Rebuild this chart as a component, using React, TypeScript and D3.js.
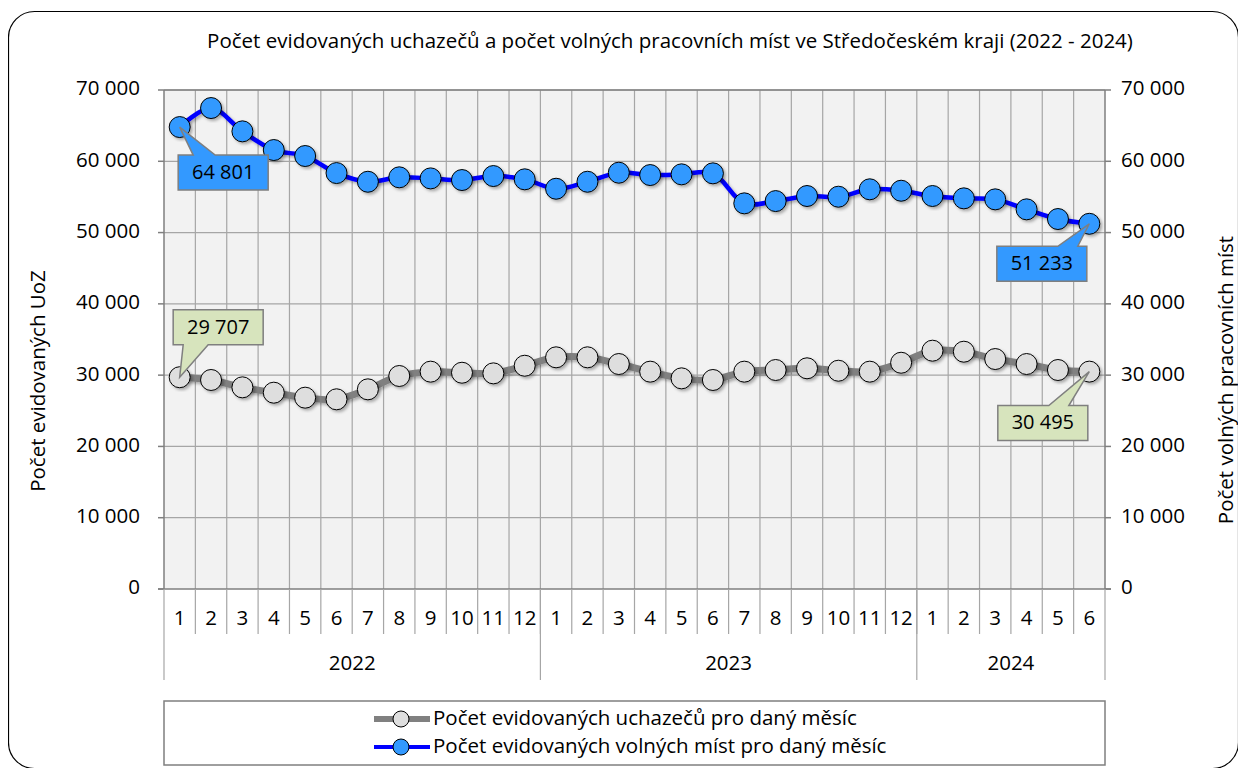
import React from "react";
import * as d3 from "d3";

// data
const months = [1, 2, 3, 4, 5, 6, 7, 8, 9, 10, 11, 12, 1, 2, 3, 4, 5, 6, 7, 8, 9, 10, 11, 12, 1, 2, 3, 4, 5, 6];
const years = ["2022", "2023", "2024"];
const yearSizes = [12, 12, 6];
const uchazeci = [
  29707, 29320, 28290, 27540, 26840, 26610, 28010, 29880, 30490, 30340, 30250, 31320,
  32500, 32500, 31560, 30490, 29550, 29320, 30490, 30720, 30960, 30620, 30490, 31740,
  33430, 33290, 32260, 31560, 30720, 30495,
];
const volnaMista = [
  64801, 67470, 64200, 61580, 60740, 58350, 57130, 57750, 57600, 57370, 57930, 57470,
  56150, 57130, 58400, 58070, 58170, 58310, 54100, 54420, 55130, 55030, 56070, 55870,
  55130, 54800, 54660, 53260, 51900, 51233,
];
const yTicks = [0, 10000, 20000, 30000, 40000, 50000, 60000, 70000];
const title = "Počet evidovaných uchazečů a počet volných pracovních míst ve Středočeském kraji (2022 - 2024)";
const leftTitle = "Počet evidovaných UoZ";
const rightTitle = "Počet volných pracovních míst";
const legendLabels = ["Počet evidovaných uchazečů pro daný měsíc", "Počet evidovaných volných míst pro daný měsíc"];

const FONT = "'Open Sans', 'Noto Sans', sans-serif";
const FS = 20.5;

const App = () => {
  const width = 1246;
  const height = 776;
  const margin = { left: 164, right: 141, top: 90, bottom: 187 };
  const plotR = width - margin.right;
  const plotB = height - margin.bottom;

  const idx = d3.range(months.length);
  const x = d3.scaleBand<number>().domain(idx).range([margin.left, plotR]);
  const y = d3.scaleLinear().domain([0, 70000]).range([plotB, margin.top]);
  const cx = (i: number) => (x(i) as number) + x.bandwidth() / 2;

  const loc = d3.formatLocale({ decimal: ",", thousands: " ", grouping: [3], currency: ["", ""] });
  const fmt = loc.format(",d");

  const line = d3
    .line<number>()
    .x((_, i) => cx(i))
    .y((d) => y(d))
    .curve(d3.curveCatmullRom.alpha(0.5));

  // year boundaries
  let acc = 0;
  const yearGroups = years.map((yr, k) => {
    const start = acc;
    acc += yearSizes[k];
    return { yr, start, end: acc };
  });
  const edgeX = (i: number) => (i >= months.length ? plotR : (x(i) as number));

  // callout: box centred at point + (dx, dy), pointer base at b0..b1 along the near edge
  const callout = (
    i: number,
    v: number,
    dx: number,
    dy: number,
    b0: number,
    b1: number,
    fill: string
  ) => {
    const px = cx(i);
    const py = y(v);
    const w = 90;
    const h = 35;
    const bx = px + dx - w / 2;
    const by = py + dy - h / 2;
    let d: string;
    if (dy > 0) {
      d = `M${bx},${by} L${bx + b0},${by} L${px},${py} L${bx + b1},${by} L${bx + w},${by} L${bx + w},${by + h} L${bx},${by + h} Z`;
    } else {
      d = `M${bx},${by} L${bx + w},${by} L${bx + w},${by + h} L${bx + b1},${by + h} L${px},${py} L${bx + b0},${by + h} L${bx},${by + h} Z`;
    }
    return (
      <g key={`c${i}${v}`}>
        <path d={d} fill={fill} stroke="#7f7f7f" strokeWidth={1.5} />
        <text x={bx + w / 2} y={by + h / 2 + 1} textAnchor="middle" dominantBaseline="middle" fontSize={20} fill="#000">
          {fmt(v)}
        </text>
      </g>
    );
  };

  const last = months.length - 1;

  return (
    <svg width={width} height={height} style={{ display: "block", margin: "-8px" }} fontFamily={FONT}>
      <defs>
        <filter id="sh" x="-20%" y="-20%" width="140%" height="140%">
          <feDropShadow dx="2" dy="2" stdDeviation="1.5" floodColor="#000" floodOpacity="0.3" />
        </filter>
      </defs>
      <rect width={width} height={height} fill="#fff" />
      <rect x={8.5} y={11.5} width={1230} height={757} rx={26} fill="#fff" stroke="#000" strokeWidth={1.2} />

      <text x={670} y={48} textAnchor="middle" fontSize={FS} fill="#000">
        {title}
      </text>

      {/* plot area */}
      <rect x={margin.left} y={margin.top} width={plotR - margin.left} height={plotB - margin.top} fill="#f2f2f2" />
      {idx.slice(1).map((i) => (
        <line key={`v${i}`} x1={x(i)} x2={x(i)} y1={margin.top} y2={plotB} stroke="#a6a6a6" strokeWidth={1.2} />
      ))}
      {yTicks.slice(1).map((t) => (
        <line key={`h${t}`} x1={margin.left} x2={plotR} y1={y(t)} y2={y(t)} stroke="#a6a6a6" strokeWidth={1.2} />
      ))}
      <line x1={margin.left} x2={plotR} y1={margin.top} y2={margin.top} stroke="#7f7f7f" strokeWidth={1.5} />
      <line x1={plotR} x2={plotR} y1={margin.top} y2={plotB} stroke="#7f7f7f" strokeWidth={1.5} />
      <line x1={margin.left} x2={margin.left} y1={margin.top} y2={plotB} stroke="#7f7f7f" strokeWidth={1.5} />

      {/* y axes */}
      {yTicks.map((t) => (
        <g key={`yt${t}`}>
          <line x1={margin.left - 6} x2={margin.left} y1={y(t)} y2={y(t)} stroke="#7f7f7f" strokeWidth={1.5} />
          <line x1={plotR} x2={plotR + 6} y1={y(t)} y2={y(t)} stroke="#7f7f7f" strokeWidth={1.5} />
          <text x={140} y={y(t)} textAnchor="end" dominantBaseline="middle" fontSize={FS}>
            {fmt(t)}
          </text>
          <text x={1121} y={y(t)} textAnchor="start" dominantBaseline="middle" fontSize={FS}>
            {fmt(t)}
          </text>
        </g>
      ))}
      <text transform={`translate(40,381) rotate(-90)`} textAnchor="middle" dominantBaseline="middle" fontSize={FS}>
        {leftTitle}
      </text>
      <text transform={`translate(1228,380) rotate(-90)`} textAnchor="middle" dominantBaseline="middle" fontSize={FS}>
        {rightTitle}
      </text>

      {/* x axis (two levels) */}
      <line x1={margin.left - 6} x2={plotR + 6} y1={plotB} y2={plotB} stroke="#7f7f7f" strokeWidth={1.5} />
      {idx.slice(1).map((i) => (
        <line key={`mt${i}`} x1={x(i)} x2={x(i)} y1={plotB} y2={634} stroke="#a6a6a6" strokeWidth={1.2} />
      ))}
      {idx.map((i) => (
        <text key={`ml${i}`} x={cx(i)} y={620} textAnchor="middle" dominantBaseline="middle" fontSize={FS}>
          {months[i]}
        </text>
      ))}
      {yearGroups.map((g) => (
        <g key={g.yr}>
          <line x1={edgeX(g.start)} x2={edgeX(g.start)} y1={plotB} y2={680} stroke="#a6a6a6" strokeWidth={1.2} />
          <text x={(edgeX(g.start) + edgeX(g.end)) / 2} y={665} textAnchor="middle" dominantBaseline="middle" fontSize={FS}>
            {g.yr}
          </text>
        </g>
      ))}
      <line x1={plotR} x2={plotR} y1={plotB} y2={680} stroke="#a6a6a6" strokeWidth={1.2} />

      {/* series */}
      <path d={line(uchazeci) ?? ""} fill="none" stroke="#808080" strokeWidth={7} filter="url(#sh)" />
      {uchazeci.map((v, i) => (
        <circle key={`u${i}`} cx={cx(i)} cy={y(v)} r={10.5} fill="#dedede" stroke="#000" strokeWidth={1} filter="url(#sh)" />
      ))}
      <path d={line(volnaMista) ?? ""} fill="none" stroke="#0000ff" strokeWidth={4.5} filter="url(#sh)" />
      {volnaMista.map((v, i) => (
        <circle key={`m${i}`} cx={cx(i)} cy={y(v)} r={10.5} fill="#3399ff" stroke="#000" strokeWidth={1} filter="url(#sh)" />
      ))}

      {/* callouts */}
      {callout(0, volnaMista[0], 43.5, 45.5, 15, 37, "#3399ff")}
      {callout(last, volnaMista[last], -47.5, 40, 61, 81, "#3399ff")}
      {callout(0, uchazeci[0], 38.5, -50, 10, 35, "#d7e4bd")}
      {callout(last, uchazeci[last], -46.5, 51.5, 51, 71, "#d7e4bd")}

      {/* legend */}
      <rect x={margin.left} y={701} width={plotR - margin.left} height={64} fill="#fff" stroke="#7f7f7f" strokeWidth={1.5} />
      {legendLabels.map((lab, k) => {
        const ly = 719 + k * 28;
        const color = k === 0 ? "#808080" : "#0000ff";
        const fill = k === 0 ? "#dedede" : "#3399ff";
        return (
          <g key={lab}>
            <line x1={374} x2={430} y1={ly} y2={ly} stroke={color} strokeWidth={k === 0 ? 6 : 4} />
            <circle cx={401} cy={ly} r={8} fill={fill} stroke="#000" strokeWidth={1} />
            <text x={433} y={ly + 1} dominantBaseline="middle" fontSize={FS}>
              {lab}
            </text>
          </g>
        );
      })}
    </svg>
  );
};

export default App;
